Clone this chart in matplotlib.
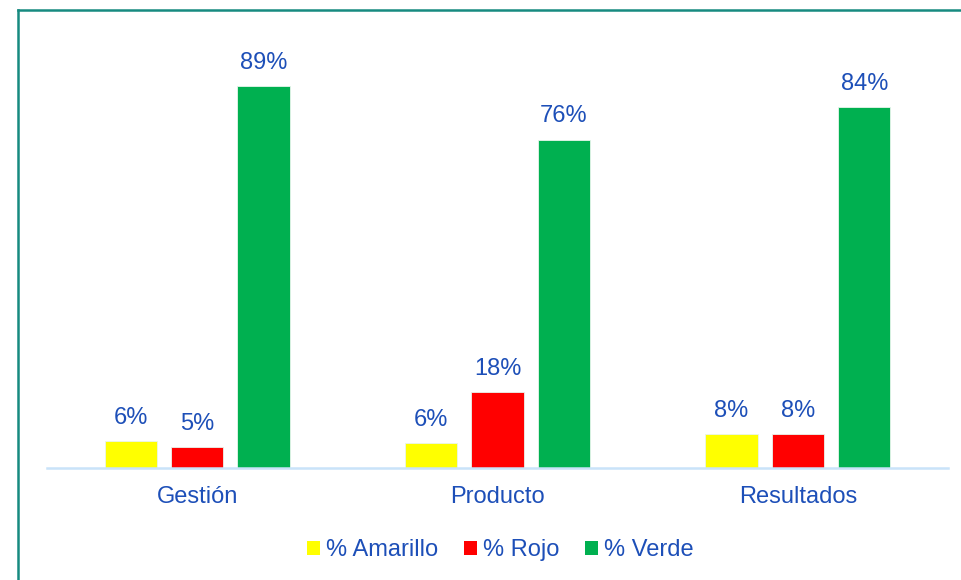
import matplotlib.pyplot as plt
import numpy as np
from matplotlib.lines import Line2D
from matplotlib.patches import Patch

plt.rcParams['font.family'] = ['Liberation Sans', 'DejaVu Sans']

categorias = ["Gestión", "Producto", "Resultados"]
series = ["% Amarillo", "% Rojo", "% Verde"]
amarillo = [0.061, 0.057, 0.077]
rojo = [0.047, 0.176, 0.077]
verde = [0.89, 0.765, 0.84]
colores = ["#FFFF00", "#FF0000", "#00B050"]

azul = "#1D4FB8"

fig = plt.figure(figsize=(9.62, 5.80), dpi=100)
ax = fig.add_axes([47 / 962, 1 - 467.5 / 580, (948 - 47) / 962, (467.5 - 41) / 580])

x = np.arange(len(categorias))
ancho = 0.175
paso = 0.221
for i, (vals, col) in enumerate(zip([amarillo, rojo, verde], colores)):
    barras = ax.bar(x + (i - 1) * paso, vals, ancho, color=col, edgecolor="#e8f5ec", linewidth=0.6)
    ax.bar_label(barras, labels=[f"{v:.0%}" for v in vals], padding=9,
                 color=azul, fontsize=17)

ax.set_xlim(-0.5, 2.5)
ax.set_ylim(0, 0.995)
ax.set_xticks(x)
ax.set_xticklabels(categorias, color=azul, fontsize=17)
ax.tick_params(axis="x", length=0, pad=13.5)
ax.set_yticks([])
for s in ["top", "right", "left"]:
    ax.spines[s].set_visible(False)
ax.spines["bottom"].set_color("#C9E3F9")
ax.spines["bottom"].set_linewidth(1.8)

handles = [Patch(facecolor=c, edgecolor="none") for c in colores]
fig.legend(handles, series, loc="center", bbox_to_anchor=(0.52, 1 - 550 / 580),
           ncol=3, frameon=False, fontsize=17, labelcolor=azul,
           handlelength=0.55, handleheight=0.55, handletextpad=0.25,
           columnspacing=1.1)

# marco
fig.add_artist(Line2D([17.5 / 962, 17.5 / 962], [0, 1 - 10 / 580],
                      color="#178A80", lw=1.8, transform=fig.transFigure))
fig.add_artist(Line2D([17.5 / 962, 1], [1 - 10 / 580, 1 - 10 / 580],
                      color="#178A80", lw=1.8, transform=fig.transFigure))

fig.savefig("out.png", dpi=100)
